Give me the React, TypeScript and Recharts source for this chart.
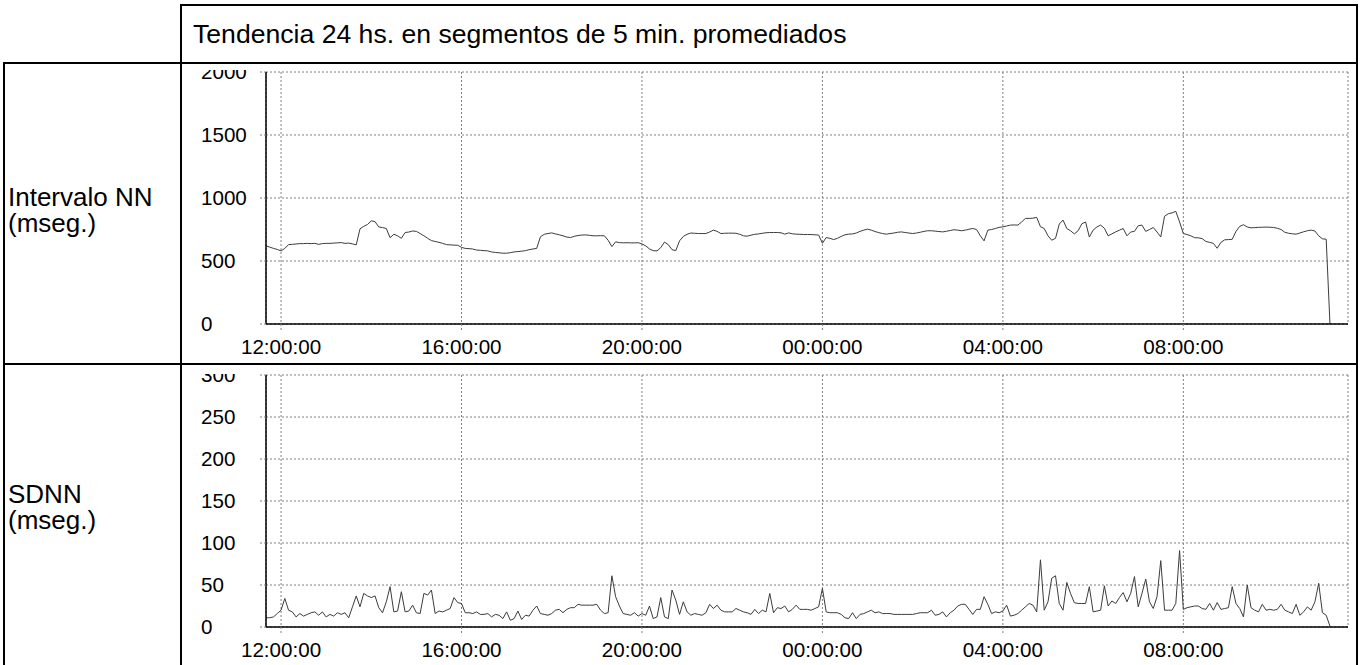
import { LineChart, Line, XAxis, YAxis, CartesianGrid } from "recharts";

// 5-minute averaged segments, time in minutes relative to 12:00:00
const SEGMENT_START = -20;
const SEGMENT_MIN = 5;

const timeTicks = [0, 240, 480, 720, 960, 1200];
const timeLabels = ["12:00:00", "16:00:00", "20:00:00", "00:00:00", "04:00:00", "08:00:00"];

const nnTicks = [0, 500, 1000, 1500, 2000];
const sdnnTicks = [0, 50, 100, 150, 200, 250, 300];

const title = "Tendencia 24 hs. en segmentos de 5 min. promediados";

// Intervalo NN (mseg.) – one row per hour
const nnValues = [
  620, 610, 600, 592,
  580, 600, 630, 632, 635, 638, 638, 640, 638, 640, 632, 638,
  640, 640, 642, 644, 646, 640, 642, 636, 628, 755, 775, 790,
  819, 812, 770, 765, 758, 685, 712, 700, 680, 726, 730, 738,
  735, 718, 700, 680, 662, 655, 648, 640, 630, 628, 626, 625,
  608, 600, 598, 595, 587, 585, 582, 580, 572, 568, 565, 562,
  562, 566, 572, 575, 578, 582, 590, 595, 600, 692, 712, 718,
  723, 715, 708, 700, 690, 686, 696, 702, 706, 707, 704, 700,
  700, 701, 700, 665, 614, 652, 646, 644, 645, 644, 644, 645,
  636, 620, 596, 582, 580, 606, 650, 630, 590, 582, 660, 695,
  712, 722, 720, 718, 718, 718, 730, 745, 735, 718, 720, 721,
  721, 720, 712, 700, 697, 705, 712, 715, 720, 724, 726, 726,
  726, 724, 713, 723, 716, 713, 712, 710, 710, 710, 708, 706,
  641, 686, 680, 670, 680, 695, 708, 713, 715, 722, 735, 745,
  753, 745, 734, 725, 718, 713, 718, 722, 728, 731, 726, 722,
  718, 722, 728, 735, 740, 740, 737, 734, 731, 736, 742, 748,
  745, 740, 745, 752, 758, 750, 700, 660, 745, 750, 758, 767,
  771, 778, 785, 786, 785, 810, 838, 838, 840, 846, 772, 758,
  700, 665, 680, 793, 825, 758, 740, 715, 740, 795, 810, 690,
  745, 770, 785, 760, 700, 715, 731, 745, 758, 700, 730, 735,
  780, 785, 735, 750, 766, 730, 691, 855, 875, 882, 894, 810,
  718, 710, 700, 685, 684, 678, 655, 648, 640, 601, 648, 668,
  670, 672, 735, 775, 788, 770, 763, 765, 767, 768, 769, 768,
  766, 760, 750, 728, 720, 716, 713, 722, 732, 740, 745, 738,
  700, 676, 673, 0,
];

// SDNN (mseg.) – one row per hour
const sdnnValues = [
  11, 11, 12, 16,
  20, 34, 20, 18, 12, 16, 13, 15, 17, 18, 14, 18,
  12, 15, 13, 17, 15, 17, 11, 24, 37, 24, 40, 37,
  35, 37, 23, 17, 30, 48, 18, 19, 42, 18, 19, 26,
  17, 16, 40, 38, 44, 16, 19, 18, 20, 22, 35, 29,
  28, 17, 17, 16, 18, 15, 15, 16, 12, 15, 14, 10,
  18, 8, 10, 19, 9, 14, 13, 20, 25, 16, 15, 14,
  16, 20, 21, 17, 21, 23, 23, 27, 26, 26, 26, 26,
  27, 20, 16, 17, 61, 36, 25, 16, 15, 14, 17, 13,
  16, 14, 25, 10, 12, 35, 12, 10, 44, 32, 15, 30,
  18, 14, 16, 15, 14, 17, 27, 22, 26, 20, 18, 18,
  18, 22, 20, 18, 17, 15, 21, 16, 20, 18, 40, 17,
  23, 22, 25, 18, 21, 26, 21, 21, 21, 20, 22, 24,
  46, 18, 17, 17, 17, 15, 11, 10, 17, 10, 15, 16,
  18, 20, 17, 18, 16, 16, 16, 15, 15, 15, 15, 15,
  15, 16, 17, 17, 17, 20, 14, 15, 18, 12, 17, 20,
  25, 27, 27, 21, 15, 21, 21, 36, 27, 16, 18, 17,
  19, 26, 13, 14, 16, 20, 24, 28, 26, 18, 80, 20,
  30, 58, 61, 28, 20, 53, 40, 29, 28, 28, 28, 48,
  18, 19, 20, 49, 25, 31, 28, 35, 41, 30, 40, 60,
  24, 40, 57, 30, 22, 36, 79, 20, 20, 20, 28, 91,
  21, 23, 24, 25, 25, 22, 21, 28, 20, 29, 21, 22,
  23, 48, 28, 22, 12, 50, 23, 20, 18, 27, 20, 21,
  20, 21, 27, 20, 18, 16, 27, 14, 18, 24, 20, 30,
  52, 17, 14, 1,
];

const data = nnValues.map((nn, i) => ({
  t: SEGMENT_START + i * SEGMENT_MIN,
  nn,
  sdnn: sdnnValues[i],
}));

const FONT = '"Liberation Sans", Arial, Helvetica, sans-serif';
const GRID = "#808080";
const CHART_W = 1173;
const TICK_FONT = 20.6;

function YTick({ y, payload }: any) {
  return (
    <text x={18} y={y} dy={7} textAnchor="start" fontSize={TICK_FONT} fontFamily={FONT} fill="#000">
      {payload.value}
    </text>
  );
}

function XTick({ x, y, payload }: any) {
  const label = timeLabels[timeTicks.indexOf(payload.value)];
  return (
    <text x={x} y={y} dy={24} textAnchor="middle" fontSize={TICK_FONT} fontFamily={FONT} fill="#000">
      {label}
    </text>
  );
}

type TrendProps = {
  dataKey: string;
  top: number;
  height: number;
  plotTop: number;
  max: number;
  ticks: number[];
};

function TrendChart({ dataKey, top, height, plotTop, max, ticks }: TrendProps) {
  const dashed = { stroke: GRID, strokeDasharray: "2 2" };
  const solid = { stroke: "#000", strokeWidth: 1.5 };
  return (
    <div style={{ position: "absolute", left: 183, top, width: CHART_W, height, overflow: "hidden" }}>
      <LineChart
        width={CHART_W}
        height={height}
        data={data}
        margin={{ top: plotTop, right: 8, left: 23, bottom: height - plotTop - 252 - 30 }}
      >
        <CartesianGrid stroke={GRID} strokeDasharray="2 2" />
        <XAxis
          type="number"
          dataKey="t"
          domain={[-20, 1419]}
          ticks={timeTicks}
          interval={0}
          height={30}
          tickSize={6}
          tickMargin={0}
          tickLine={dashed}
          axisLine={solid}
          tick={<XTick />}
          allowDataOverflow
        />
        <YAxis
          type="number"
          domain={[0, max]}
          ticks={ticks}
          interval={0}
          width={60}
          tickSize={6}
          tickLine={dashed}
          axisLine={solid}
          tick={<YTick />}
          allowDataOverflow
        />
        <Line
          type="linear"
          dataKey={dataKey}
          stroke="#3c3c3c"
          strokeWidth={1}
          dot={false}
          isAnimationActive={false}
        />
      </LineChart>
    </div>
  );
}

const line = (left: number, top: number, width: number, height: number) => (
  <div style={{ position: "absolute", left, top, width, height, background: "#000" }} />
);

function Label({ top, text }: { top: number; text: string }) {
  return (
    <div
      style={{
        position: "absolute",
        left: 8,
        top,
        height: 26,
        fontSize: 26,
        lineHeight: "26px",
        fontFamily: FONT,
        color: "#000",
        whiteSpace: "nowrap",
      }}
    >
      {text}
    </div>
  );
}

export default function App() {
  return (
    <div
      style={{
        position: "absolute",
        left: 0,
        top: 0,
        width: 1364,
        height: 665,
        background: "#fff",
        overflow: "hidden",
        fontFamily: FONT,
      }}
    >
      <TrendChart dataKey="nn" top={70} height={292} plotTop={2} max={2000} ticks={nnTicks} />
      <TrendChart dataKey="sdnn" top={374} height={291} plotTop={1} max={300} ticks={sdnnTicks} />

      {line(181, 4, 1177, 2)}
      {line(3, 62, 1355, 2)}
      {line(3, 363, 1355, 2)}
      {line(180, 4, 2, 661)}
      {line(3, 62, 2, 603)}
      {line(1356, 4, 2, 661)}

      <div style={{ position: "absolute", left: 193, top: 21, fontSize: 26.6, lineHeight: "27px" }}>{title}</div>
      <Label top={184} text="Intervalo NN" />
      <Label top={210} text="(mseg.)" />
      <Label top={481} text="SDNN" />
      <Label top={507} text="(mseg.)" />
    </div>
  );
}
